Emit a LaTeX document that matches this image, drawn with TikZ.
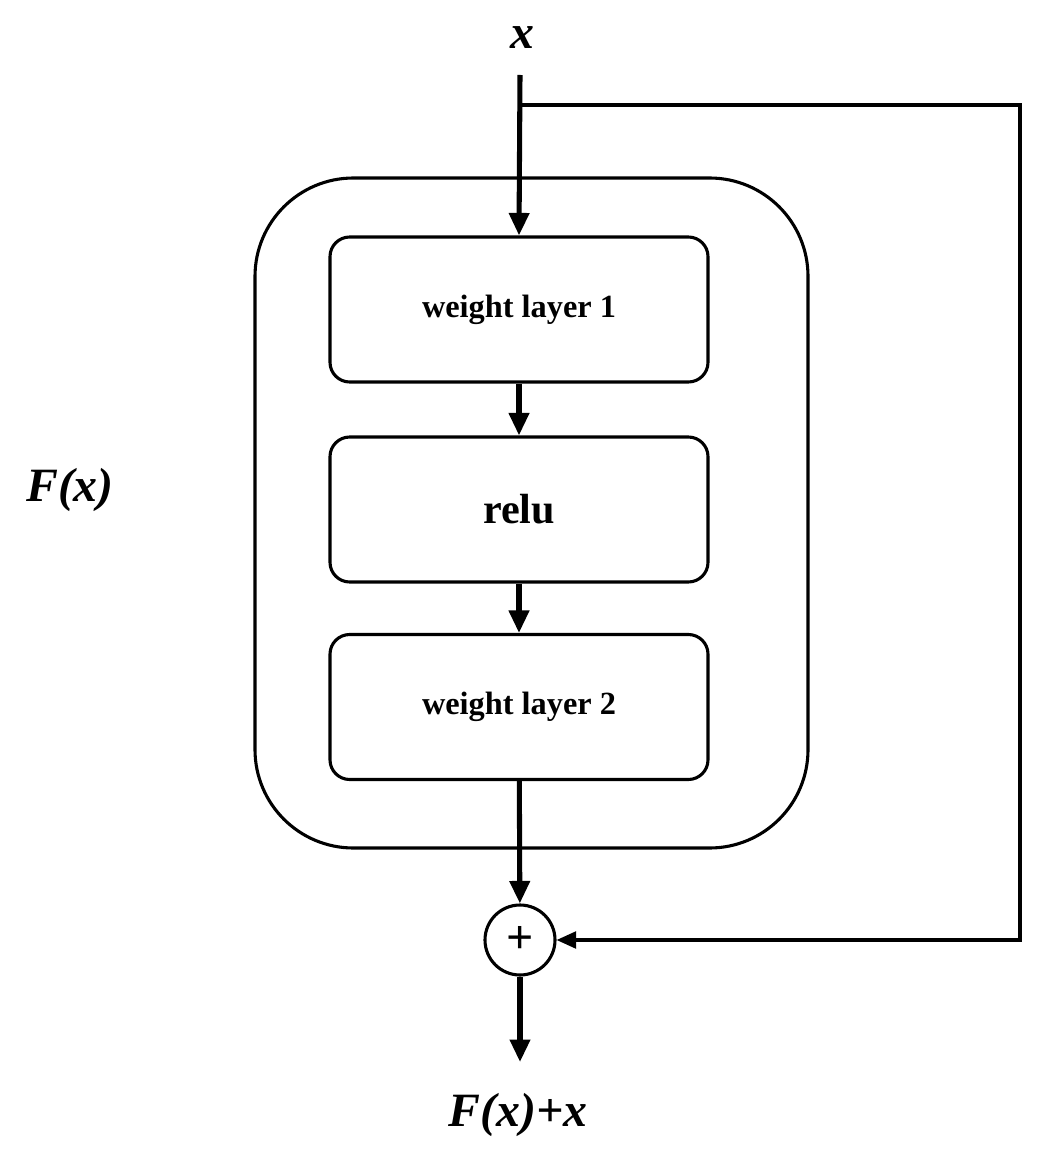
\documentclass[tikz,border=0pt]{standalone}
\usepackage{fontspec}
\setmainfont{Liberation Serif}
\usetikzlibrary{arrows.meta}
\begin{document}
\begin{tikzpicture}[x=0.025cm,y=-0.025cm,
  blk/.style={draw,line width=2.2pt,rounded corners=14pt,minimum width=378*0.025cm,minimum height=145*0.025cm,font=\fontsize{23}{26}\selectfont\bfseries},
  main/.style={line width=3.6pt,-{Triangle[length=16pt,width=14pt]}},
  skip/.style={line width=2.2pt,-{Triangle[length=14pt,width=12pt]}},
  lab/.style={font=\fontsize{34}{38}\selectfont\bfseries\itshape}]
\useasboundingbox (0,0) rectangle (1052,1174);
\node[lab] (x) at (522,38) {x};
\coordinate (xs) at (520,75);
\coordinate (br) at (520,105);
\coordinate (tr) at (1020,105);
\coordinate (brr) at (1020,940);
\draw[line width=2.2pt,rounded corners=70pt] (255,178) rectangle (808,848);
\node[blk] (b1) at (519,309.5) {weight layer 1};
\node[blk] (b2) at (519,509.5) {\fontsize{30}{34}\selectfont relu};
\node[blk] (b3) at (519,707) {weight layer 2};
\node[draw,circle,line width=2.2pt,minimum size=70*0.025cm,inner sep=0pt,font=\fontsize{34}{34}\selectfont\bfseries] (p) at (520,940) {+};
\coordinate (out) at (520,1062);
\node[lab] (fx) at (518,1115) {F(x)+x};
\node[lab] (f) at (70,490) {F(x)};
\draw[main] (xs) -- (b1.north);
\draw[main] (b1) -- (b2);
\draw[main] (b2) -- (b3);
\draw[main] (b3) -- (p);
\draw[main] (p) -- (out);
\draw[skip] (br) -- (tr) -- (brr) -- (p);
\end{tikzpicture}
\end{document}
